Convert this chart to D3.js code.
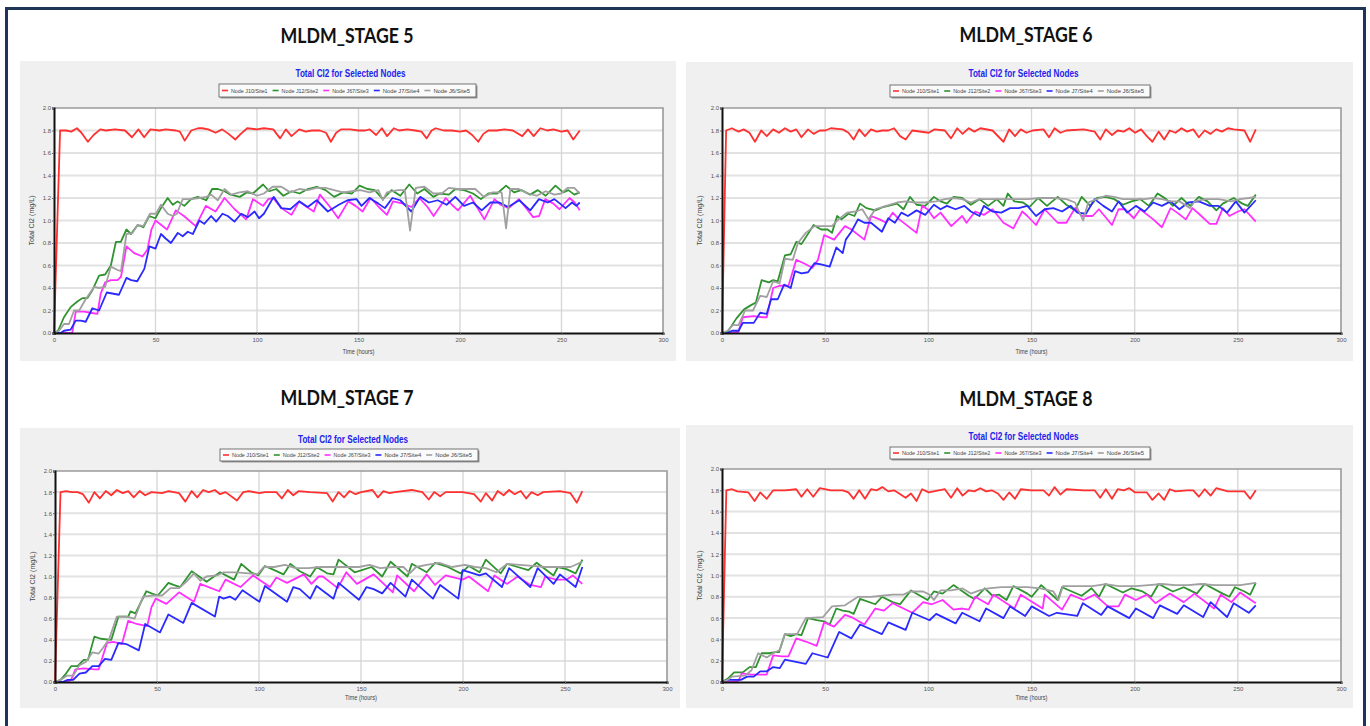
<!DOCTYPE html>
<html>
<head>
<meta charset="utf-8">
<script src="https://cdn.jsdelivr.net/npm/d3@7"></script>
<style>
  body { margin: 0; background: #fff; }
  svg { display: block; }
</style>
</head>
<body>
<svg id="chart" width="1370" height="726"></svg>
<script>
// ---- labels and ticks ----
const stageNames = ["MLDM_STAGE 5", "MLDM_STAGE 6", "MLDM_STAGE 7", "MLDM_STAGE 8"];
const chartTitle = "Total Cl2 for Selected Nodes";
const seriesNames = ["Node J10/Site1", "Node J12/Site2", "Node J67/Site3", "Node J7/Site4", "Node J6/Site5"];
const xTicks = [0, 50, 100, 150, 200, 250, 300];
const yTicks = [0, 0.2, 0.4, 0.6, 0.8, 1.0, 1.2, 1.4, 1.6, 1.8, 2.0];
const xLabel = "Time (hours)";
const yLabel = "Total Cl2 (mg/L)";

// ---- series: [time (hours), Cl2 (mg/L)] ----
const stage5_site1 = [[0,0],[3,1.80],[6,1.80],[8.5,1.79],[11.3,1.82],[13.5,1.78],[16.7,1.70],[19.5,1.76],[22.8,1.81],[25.5,1.80],[30,1.81],[35,1.80],[38.4,1.74],[41.6,1.81],[44.4,1.74],[47.5,1.81],[52,1.80],[55,1.81],[60,1.80],[62,1.79],[64.4,1.71],[67.6,1.80],[71,1.82],[73,1.82],[76,1.81],[79.6,1.78],[82.8,1.81],[86,1.77],[89.3,1.72],[92,1.77],[95.2,1.82],[100,1.81],[103.4,1.82],[108,1.81],[111.4,1.73],[114.2,1.81],[117,1.75],[120.8,1.81],[124,1.79],[127,1.80],[131,1.80],[134,1.78],[136.4,1.70],[139,1.78],[141.4,1.81],[146,1.81],[150,1.80],[153.3,1.80],[155.5,1.81],[158.7,1.76],[161.5,1.82],[164.1,1.75],[167.4,1.82],[170,1.80],[174,1.81],[178,1.80],[181,1.79],[183.6,1.73],[186,1.80],[188,1.82],[192,1.80],[196,1.80],[200,1.79],[203,1.80],[206,1.76],[209,1.70],[211.5,1.77],[214,1.80],[218,1.80],[222,1.81],[226,1.80],[230.7,1.75],[233.5,1.81],[236.3,1.75],[239.6,1.82],[243,1.80],[246,1.81],[250,1.79],[253,1.80],[255.8,1.72],[259,1.80]];
const stage5_site2 = [[0,0],[2,0.02],[4.9,0.14],[8.2,0.23],[11.5,0.28],[14,0.31],[16.5,0.31],[18.9,0.38],[22.2,0.51],[25.2,0.52],[28,0.60],[30.5,0.81],[32.9,0.81],[35.7,0.92],[37.9,0.88],[41.2,0.96],[44,0.94],[46.9,1.04],[49.9,1.02],[52.7,1.11],[56,1.20],[58.5,1.14],[60.9,1.17],[64.2,1.13],[67.5,1.19],[70.8,1.21],[75,1.18],[77.9,1.28],[80.7,1.28],[84,1.26],[87,1.23],[91.5,1.21],[95,1.25],[98,1.24],[103,1.32],[106,1.26],[109.5,1.28],[113,1.22],[117,1.26],[121,1.24],[125,1.28],[129.4,1.30],[133.8,1.27],[138,1.21],[142.4,1.25],[146.8,1.24],[150.5,1.31],[154.4,1.28],[158,1.27],[162,1.19],[166.3,1.27],[170.6,1.22],[175,1.32],[178.9,1.24],[182.5,1.28],[186.9,1.21],[190,1.24],[194.5,1.23],[197.7,1.28],[202,1.27],[206.4,1.24],[210.3,1.19],[214,1.24],[218.3,1.24],[222.7,1.31],[226.6,1.25],[230.2,1.27],[234.6,1.23],[238.3,1.27],[242.2,1.22],[247,1.31],[250.8,1.25],[253.4,1.27],[256.3,1.23],[259,1.25]];
const stage5_site3 = [[0,0],[9,0],[10.7,0.19],[14.8,0.19],[18,0.18],[21.4,0.17],[23,0.35],[25.2,0.45],[28,0.47],[31.3,0.47],[33,0.50],[35.7,0.77],[39.5,0.71],[43.6,0.68],[46,0.74],[48,0.92],[50,1.00],[55.7,0.92],[60,1.09],[64,1.04],[69.8,0.95],[74.8,1.13],[79.6,1.08],[84,1.20],[89,1.10],[94.7,1.01],[98,1.19],[103,1.13],[105.6,1.19],[108,1.20],[112,1.11],[117,1.05],[120.8,1.17],[124.5,1.12],[128,1.08],[131,1.23],[136,1.12],[140,1.02],[145,1.17],[148.5,1.13],[152,1.08],[156,1.20],[160,1.12],[164,1.05],[167,1.17],[172,1.15],[176,1.12],[180,1.20],[184,1.12],[187,1.04],[193,1.20],[196,1.14],[199,1.09],[205,1.22],[209,1.10],[212,1.01],[217,1.19],[220,1.14],[224,1.11],[229,1.19],[233,1.10],[236,1.03],[239,1.04],[242,1.19],[246,1.15],[249,1.10],[254,1.20],[256.5,1.16],[259,1.09]];
const stage5_site4 = [[0,0],[3.3,0],[4.9,0.02],[8.2,0.03],[10.7,0.11],[13.2,0.11],[15.6,0.10],[18.9,0.22],[22.2,0.20],[26,0.36],[32,0.34],[35.7,0.49],[38,0.47],[41,0.46],[44.5,0.57],[47,0.77],[50,0.75],[52.7,0.88],[55,0.84],[57.6,0.80],[61,0.89],[63.4,0.86],[65.9,0.90],[68.4,0.88],[71.6,1.00],[74,0.97],[77.4,1.04],[79.9,0.99],[83,1.06],[85.6,1.04],[88.9,0.99],[92.2,1.06],[95.5,1.03],[98.8,1.08],[101,1.02],[103.4,1.06],[108.2,1.21],[112,1.11],[116.4,1.10],[120.8,1.17],[125,1.12],[129.4,1.18],[134.9,1.08],[140.3,1.14],[144.6,1.18],[149,1.19],[151.5,1.13],[155.4,1.20],[159.8,1.15],[163,1.11],[166.7,1.20],[170.6,1.18],[176,1.08],[180.4,1.21],[184.7,1.16],[189,1.18],[193.4,1.14],[197.7,1.21],[202,1.13],[206.4,1.16],[210.7,1.09],[215,1.16],[219.4,1.16],[223.7,1.12],[229.2,1.18],[234.6,1.09],[238.9,1.19],[243.2,1.16],[246.5,1.19],[252,1.11],[255.2,1.16],[257.3,1.13],[259,1.16]];
const stage5_site5 = [[0,0],[2.5,0.02],[4.9,0.08],[7.4,0.08],[9.9,0.20],[12.4,0.20],[15.6,0.30],[19.8,0.41],[22.2,0.40],[25.2,0.41],[28,0.59],[31.3,0.56],[33,0.55],[35.7,0.88],[38.7,0.89],[41.2,0.96],[44,0.95],[47.3,1.06],[50.2,1.06],[52.7,1.14],[56,1.06],[58.5,1.04],[60.5,1.06],[63.4,1.19],[67.5,1.19],[71.6,1.20],[75,1.21],[77.4,1.23],[80.7,1.18],[84,1.28],[87.3,1.23],[91.4,1.25],[95.5,1.26],[100,1.22],[103.4,1.24],[107.7,1.30],[112,1.30],[116.4,1.25],[120.8,1.28],[125,1.27],[129.4,1.29],[133.8,1.29],[138,1.27],[142.4,1.25],[146.8,1.26],[151,1.27],[155.4,1.25],[159.8,1.27],[162,1.18],[164,1.25],[169.5,1.27],[172.8,1.27],[175.4,0.91],[178.2,1.29],[182.5,1.30],[186.9,1.24],[191,1.24],[194.5,1.29],[198.8,1.28],[203,1.28],[207.5,1.28],[211.8,1.21],[216,1.25],[220.5,1.25],[222.7,0.93],[224.8,1.28],[229,1.28],[233.5,1.24],[237.8,1.22],[242.2,1.26],[246.5,1.23],[249.8,1.24],[253,1.29],[256.3,1.29],[259,1.24]];

const stage6_site1 = [[0,0],[2,1.80],[4.8,1.82],[8,1.79],[10.5,1.81],[13.3,1.78],[16,1.70],[19,1.80],[21.7,1.75],[24.8,1.81],[27.6,1.78],[30.5,1.82],[33.3,1.79],[36,1.81],[38.5,1.74],[41.7,1.81],[44.4,1.77],[47.4,1.80],[50,1.80],[52.8,1.82],[58.5,1.81],[61.3,1.78],[63.8,1.72],[66.5,1.81],[69.3,1.75],[72.2,1.81],[75,1.79],[77.7,1.80],[80.6,1.80],[83.4,1.82],[86.3,1.75],[89,1.72],[92.2,1.80],[100.2,1.78],[103,1.81],[108,1.80],[111,1.73],[114,1.82],[116.6,1.77],[119.6,1.82],[122.3,1.79],[125.2,1.82],[131.1,1.80],[136.4,1.70],[139.2,1.81],[142,1.75],[144.8,1.81],[147.6,1.78],[150.5,1.80],[155.8,1.81],[158.5,1.74],[161.2,1.82],[164,1.78],[166.9,1.80],[175.3,1.81],[180.6,1.79],[183.3,1.72],[186,1.81],[189,1.76],[191.8,1.80],[194.7,1.79],[197.4,1.82],[200.2,1.78],[203.1,1.81],[205.9,1.75],[208.6,1.70],[211.6,1.79],[214.3,1.72],[217,1.80],[219.8,1.78],[222.7,1.82],[225.4,1.79],[228.4,1.81],[231.1,1.74],[233.9,1.80],[236.8,1.77],[239.5,1.81],[242.3,1.79],[245.2,1.82],[248,1.81],[253.2,1.80],[256,1.70],[258.7,1.81]];
const stage6_site2 = [[0,0],[2.7,0.01],[7,0.13],[10.7,0.21],[14.3,0.25],[16.4,0.27],[19.2,0.47],[22.7,0.45],[24.8,0.47],[27,0.46],[30.5,0.69],[33.3,0.70],[36,0.81],[38.5,0.79],[44.4,0.96],[48,0.92],[51.2,0.92],[53.3,0.89],[55.8,1.04],[57.9,1.01],[61.3,1.06],[64.2,1.04],[66.9,1.15],[70,1.11],[74.3,1.09],[78.1,1.12],[80.6,1.13],[84.8,1.15],[88,1.10],[91.1,1.21],[94.3,1.14],[98.5,1.13],[102.7,1.21],[105.9,1.17],[109,1.15],[112.2,1.21],[116.4,1.20],[120.6,1.14],[124.8,1.19],[129,1.13],[133.2,1.19],[136.4,1.13],[138.5,1.24],[141.7,1.17],[145.9,1.16],[149,1.12],[153.2,1.20],[157.5,1.13],[162.7,1.21],[166.9,1.14],[171.1,1.09],[174.3,1.21],[178.5,1.13],[181.7,1.20],[185.9,1.21],[190.1,1.19],[194.3,1.14],[198.5,1.17],[202.7,1.19],[206.9,1.13],[211.1,1.24],[215.3,1.19],[218.5,1.13],[222.7,1.20],[226.9,1.13],[231.1,1.21],[235.3,1.17],[239.6,1.09],[242.7,1.15],[248,1.20],[252.2,1.15],[254.9,1.13],[258.7,1.23]];
const stage6_site3 = [[0,0],[4.8,0],[8,0.01],[10.1,0.14],[15.4,0.15],[19.6,0.14],[21.7,0.14],[24.8,0.40],[27.9,0.42],[32.2,0.42],[36,0.65],[39.6,0.62],[43.8,0.58],[46.5,0.65],[49.5,0.87],[54.3,0.83],[59.6,0.95],[62.7,0.92],[69,0.83],[72.2,1.04],[76.4,1.01],[79.6,0.98],[82.7,1.07],[85.9,1.01],[94.3,0.89],[97,1.13],[99.6,1.10],[102.7,1.02],[105.9,1.07],[111.1,0.95],[116.4,1.04],[118.5,0.98],[122.7,1.08],[126.9,1.05],[131.1,1.10],[136.4,0.98],[141.2,0.93],[145.5,1.08],[148,1.04],[152.2,0.96],[156.4,1.10],[162.7,0.98],[166.9,0.98],[171.1,1.11],[174.3,1.04],[179.6,1.04],[182.7,1.10],[189,0.96],[192.2,1.10],[195.3,1.10],[199.6,1.02],[202.7,1.10],[209,1.01],[213.2,0.94],[217.4,1.11],[220.6,1.07],[224.8,1.01],[228,1.11],[231.1,1.06],[236.4,0.97],[239.6,0.97],[242.7,1.11],[245.9,1.04],[250.1,1.08],[253.2,1.10],[258.7,0.99]];
const stage6_site4 = [[0,0],[2.7,0],[4.8,0.02],[8,0.02],[10.1,0.09],[15.4,0.09],[18.5,0.18],[21.7,0.17],[23.8,0.30],[27,0.30],[30.1,0.43],[33.3,0.40],[35.4,0.55],[38.5,0.53],[41.7,0.54],[44.8,0.62],[48,0.61],[52.2,0.59],[55.4,0.76],[58.5,0.71],[60,0.83],[62.7,0.90],[65.9,1.01],[69,0.98],[72.2,0.98],[77.5,0.90],[80.6,1.02],[83.8,0.98],[86.9,1.07],[90.1,1.04],[94.3,1.09],[98.5,1.05],[102.7,1.14],[105.9,1.10],[109,1.13],[113.2,1.10],[117.5,1.13],[120.6,1.08],[124.8,1.04],[126.9,1.13],[131.1,1.08],[135.4,1.07],[139.6,1.11],[143.8,1.11],[148,1.13],[152.2,1.04],[156.4,1.10],[160.6,1.11],[164.8,1.08],[169,1.13],[172.2,1.07],[176.4,1.06],[180.6,1.19],[184.8,1.13],[189,1.08],[192.2,1.17],[196.4,1.07],[200.6,1.13],[204.8,1.08],[209,1.16],[213.2,1.13],[217.4,1.17],[221.7,1.10],[225.9,1.16],[231.1,1.17],[236.4,1.13],[240.6,1.13],[244.8,1.07],[249,1.17],[253.2,1.07],[258.7,1.18]];
const stage6_site5 = [[0,0],[2.7,0.02],[5.3,0.07],[8,0.07],[11.2,0.20],[15,0.20],[18.5,0.33],[21.7,0.32],[24.8,0.46],[27.9,0.44],[30.5,0.66],[34.3,0.65],[36.8,0.80],[40.6,0.89],[44.8,0.95],[49,0.95],[53.3,0.95],[56.4,1.01],[60.6,1.07],[64.8,1.08],[68,1.10],[71,1.01],[74.3,1.10],[79.6,1.13],[84.8,1.16],[89,1.17],[93.3,1.16],[98.5,1.16],[103.8,1.17],[108,1.19],[112.2,1.20],[116.4,1.19],[120.6,1.16],[124.8,1.19],[129,1.19],[133.2,1.19],[138.5,1.19],[143.8,1.19],[148,1.19],[154.3,1.20],[160.6,1.20],[166.9,1.19],[171.1,1.16],[175,1.00],[177.5,1.16],[181.7,1.19],[185.9,1.22],[190.1,1.21],[194.3,1.19],[198.5,1.19],[204.8,1.19],[209,1.20],[213.2,1.19],[217.4,1.17],[221.7,1.17],[226.9,1.11],[229,1.17],[234.3,1.19],[240.6,1.19],[246.9,1.17],[251.1,1.19],[255.3,1.20],[258.7,1.21]];

const stage7_site1 = [[0,0],[2.7,1.80],[5.4,1.81],[8.3,1.80],[11,1.80],[13.7,1.78],[16.6,1.70],[19.3,1.80],[22,1.74],[24.9,1.81],[27.6,1.77],[30.3,1.82],[33.2,1.79],[35.9,1.81],[38.6,1.75],[41.5,1.81],[44.2,1.77],[47.3,1.80],[52.5,1.79],[55.6,1.81],[60.8,1.79],[63.9,1.71],[67,1.81],[69.7,1.75],[72.6,1.82],[75.3,1.80],[78.4,1.82],[80.9,1.78],[83.6,1.80],[89.2,1.72],[92.3,1.80],[95,1.81],[100.2,1.79],[102.9,1.80],[108.5,1.80],[111.2,1.74],[114.1,1.82],[116.8,1.77],[119.5,1.81],[125.1,1.80],[133.4,1.79],[136.1,1.71],[139,1.80],[141.7,1.75],[144.4,1.81],[147.3,1.78],[150,1.80],[155.6,1.82],[158.3,1.75],[161,1.81],[163.9,1.79],[166.6,1.80],[174.9,1.82],[180.1,1.80],[183.2,1.73],[185.9,1.80],[188.8,1.76],[191.5,1.80],[199.8,1.80],[205.4,1.78],[208.7,1.71],[211.2,1.79],[214.3,1.72],[217,1.81],[219.9,1.77],[222.6,1.82],[225.3,1.78],[228.3,1.81],[231,1.74],[233.6,1.80],[236.6,1.77],[239.3,1.80],[247.5,1.81],[252.7,1.79],[255.8,1.70],[258.5,1.81]];
const stage7_site2 = [[0,0],[2.7,0.02],[5.4,0.08],[7.9,0.15],[11,0.15],[14.1,0.21],[16.2,0.21],[19.3,0.43],[22.4,0.41],[27.6,0.40],[31.1,0.62],[35.9,0.62],[37,0.67],[39.4,0.65],[44.8,0.86],[47.3,0.84],[50.4,0.82],[55.6,0.94],[58.1,0.92],[61.4,0.90],[67,1.05],[74.3,0.95],[80.9,1.04],[87.8,0.97],[91.3,1.12],[96.1,1.04],[99.6,1.01],[102.9,1.10],[107.5,1.06],[112,1.02],[115.4,1.12],[120,1.05],[125.1,1.00],[128.2,1.09],[133.4,1.03],[136.5,1.02],[139,1.16],[146.9,1.04],[155.2,1.09],[160.4,1.00],[164.5,1.14],[172.8,1.00],[174.9,1.12],[182.2,1.04],[186.3,1.13],[192.6,1.09],[198.8,1.03],[202.9,1.10],[208.1,1.04],[211.2,1.16],[218.5,1.03],[221.6,1.12],[226.8,1.09],[232,1.06],[236.1,1.13],[244.4,1.01],[246.5,1.09],[250.7,1.07],[255.2,1.03],[258.5,1.16]];
const stage7_site3 = [[0,0],[5.8,0],[7.9,0.02],[10,0.12],[14.1,0.13],[19.3,0.12],[21.4,0.12],[25.5,0.37],[28.6,0.38],[32.8,0.36],[35.9,0.58],[40,0.55],[45.2,0.53],[47.3,0.71],[49.4,0.79],[54.6,0.74],[60.8,0.85],[68.1,0.76],[71.2,0.93],[80.5,0.86],[83.6,0.97],[90.9,0.90],[97.1,1.01],[105.4,0.90],[108.5,0.99],[113.7,0.94],[122,1.02],[125.7,0.93],[129.3,1.00],[131.3,1.00],[138.6,0.89],[142.8,1.04],[148,0.93],[156.2,1.02],[165.6,0.85],[167.7,1.01],[176,0.86],[182.2,1.02],[186.3,0.92],[191.5,1.01],[199.8,0.97],[202.9,1.00],[212.3,0.86],[215.4,1.01],[221.6,0.93],[226.8,1.00],[233,0.92],[238.2,0.90],[240.3,1.00],[245.5,0.97],[250.7,0.97],[253.8,1.01],[258.5,0.93]];
const stage7_site4 = [[0,0],[3.7,0],[6.2,0.02],[8.9,0.02],[12,0.08],[15.1,0.09],[18.3,0.15],[21.4,0.15],[24.5,0.22],[27.6,0.21],[31.1,0.37],[34.9,0.36],[41.1,0.30],[44.2,0.55],[51.5,0.47],[55.6,0.64],[62.9,0.56],[67,0.75],[78.4,0.62],[80.5,0.81],[82.6,0.79],[85.7,0.81],[88.4,0.78],[91.9,0.87],[100.2,0.76],[102.9,0.91],[113.7,0.76],[116.8,0.90],[120,0.88],[125.1,0.79],[128.2,0.91],[136.5,0.79],[139,0.94],[149,0.78],[152.7,0.90],[156.2,0.88],[160.4,0.84],[164.5,0.94],[171.8,0.81],[174.9,0.97],[185.3,0.79],[188.8,0.92],[197.7,0.79],[199.8,1.06],[205,1.03],[208.1,1.01],[211.2,1.03],[219.1,0.90],[222.6,1.08],[233,0.90],[236.6,1.08],[244.4,0.93],[247.5,1.02],[255.2,0.90],[258.5,1.09]];
const stage7_site5 = [[0,0],[2.7,0.02],[5.8,0.06],[8.9,0.06],[12,0.16],[15.1,0.19],[18.3,0.28],[21.4,0.27],[23.4,0.32],[26.6,0.41],[30.3,0.62],[34.9,0.62],[39,0.60],[43.2,0.81],[48.3,0.82],[52.5,0.82],[56.6,0.89],[60.8,0.89],[64.9,0.96],[68.1,1.03],[71.2,0.96],[74.3,1.00],[79.5,1.01],[82.6,1.04],[88.8,1.04],[95,1.03],[99.2,1.02],[102.3,1.09],[107.5,1.09],[112.7,1.11],[117.9,1.08],[124.1,1.08],[130.3,1.09],[136.5,1.09],[142.8,1.09],[149,1.09],[154.2,1.11],[159.4,1.08],[165.6,1.09],[170.8,1.09],[173.9,1.03],[177,1.09],[182.2,1.11],[188.4,1.13],[194.6,1.09],[200.9,1.11],[206,1.09],[211.2,1.08],[216.4,1.04],[221.6,1.12],[227.8,1.11],[234.1,1.10],[240.3,1.09],[246.5,1.09],[252.7,1.09],[258.5,1.14]];

const stage8_site1 = [[0,0],[2.1,1.80],[4.8,1.81],[7.4,1.79],[12.8,1.78],[15.8,1.70],[18.5,1.78],[21.7,1.72],[24.8,1.80],[30.5,1.80],[36,1.81],[38.5,1.74],[41.3,1.81],[44.2,1.74],[47.4,1.82],[52.8,1.80],[58.5,1.80],[61.3,1.78],[63.8,1.72],[66.5,1.80],[69.3,1.72],[72.2,1.81],[75,1.80],[77.7,1.83],[80.6,1.79],[83.4,1.80],[89,1.73],[91.6,1.77],[94.3,1.70],[97,1.81],[100.2,1.78],[108,1.81],[111,1.73],[114,1.82],[116.6,1.75],[119.6,1.80],[122.3,1.79],[125.2,1.82],[128,1.79],[130.7,1.80],[133.7,1.77],[136.4,1.71],[139.2,1.78],[142,1.72],[144.8,1.81],[150,1.80],[155.8,1.80],[158.5,1.75],[161.2,1.83],[164,1.76],[166.9,1.81],[175.3,1.80],[180.6,1.80],[183.3,1.73],[186,1.81],[189,1.72],[191.8,1.81],[194.7,1.80],[197.4,1.82],[200.2,1.78],[205.9,1.78],[208.6,1.71],[211.6,1.77],[214.3,1.71],[217,1.81],[219.8,1.79],[225.4,1.80],[228.4,1.80],[231.1,1.74],[233.9,1.81],[236.8,1.75],[239.5,1.82],[245.2,1.79],[253.2,1.79],[256,1.72],[258.7,1.80]];
const stage8_site2 = [[0,0],[2.7,0.03],[5.9,0.09],[10.1,0.09],[13.3,0.14],[16.4,0.14],[19.2,0.27],[22.7,0.27],[25.9,0.28],[27.6,0.28],[30.5,0.45],[33.3,0.43],[36,0.45],[38.5,0.44],[41.7,0.60],[45.9,0.58],[49.5,0.57],[52.2,0.54],[55.4,0.69],[58.5,0.67],[61.7,0.66],[63.8,0.64],[66.9,0.78],[74.3,0.73],[77.5,0.80],[82.7,0.75],[86.3,0.73],[91.6,0.86],[99.6,0.77],[102.7,0.85],[106.9,0.83],[112.2,0.91],[119.6,0.81],[122.3,0.78],[127.4,0.88],[131.1,0.81],[134.3,0.82],[137.9,0.77],[141.2,0.90],[148,0.83],[150.1,0.80],[154.7,0.91],[162.7,0.77],[164.8,0.89],[174.3,0.81],[179.1,0.88],[182.7,0.80],[185.9,0.92],[194.3,0.84],[198.5,0.88],[203.8,0.85],[208,0.80],[211.6,0.92],[218.5,0.85],[223.8,0.89],[226.9,0.86],[230.1,0.83],[233.9,0.92],[242.7,0.83],[245.9,0.80],[248.6,0.89],[253.2,0.85],[256,0.82],[258.7,0.93]];
const stage8_site3 = [[0,0],[4.8,0],[8,0.01],[9.5,0.08],[14.3,0.07],[19.6,0.07],[21.7,0.07],[24.8,0.25],[29,0.24],[32.2,0.24],[36,0.41],[40.6,0.38],[45.9,0.34],[49.5,0.56],[54.3,0.52],[59.6,0.63],[62.7,0.61],[69,0.54],[74.3,0.69],[78.5,0.67],[82.7,0.74],[92.2,0.65],[97.5,0.75],[101.7,0.73],[106.9,0.77],[112.2,0.68],[116.4,0.69],[119.6,0.68],[122.7,0.80],[129,0.73],[131.6,0.82],[141.7,0.69],[144.8,0.82],[155.4,0.69],[156.4,0.82],[164.8,0.68],[169,0.82],[175.3,0.77],[180.6,0.82],[187,0.71],[192.2,0.71],[195.3,0.82],[200.6,0.77],[205.9,0.82],[210.1,0.74],[217,0.83],[223.8,0.75],[229,0.83],[238.5,0.69],[241.7,0.82],[246.9,0.75],[251.1,0.84],[258.7,0.74]];
const stage8_site4 = [[0,0],[2.7,0.02],[9.1,0.02],[12.2,0.05],[15.4,0.05],[18.5,0.10],[21.7,0.10],[24.8,0.14],[28,0.13],[30.5,0.21],[40.6,0.17],[43.8,0.27],[51.2,0.23],[56.8,0.47],[62.7,0.41],[66.9,0.54],[77.5,0.45],[80.6,0.56],[89,0.49],[92.2,0.65],[100.6,0.58],[103.8,0.64],[113.2,0.55],[116.4,0.65],[124.8,0.57],[128,0.69],[136.4,0.60],[139.6,0.71],[146.9,0.62],[150.1,0.71],[158.5,0.62],[162.3,0.65],[172.2,0.62],[174.9,0.74],[183.8,0.63],[186.9,0.71],[197.4,0.60],[200.6,0.69],[209,0.60],[212.2,0.72],[220.6,0.64],[223.8,0.72],[233.2,0.61],[236.8,0.75],[244.8,0.61],[248,0.74],[255.3,0.65],[258.7,0.72]];
const stage8_site5 = [[0,0],[2.7,0.02],[4.8,0.05],[11.2,0.06],[14.3,0.11],[17.5,0.27],[21.7,0.23],[24.8,0.27],[28,0.30],[30.5,0.45],[36.4,0.45],[40.6,0.60],[49,0.61],[53.3,0.71],[59.6,0.72],[65.9,0.80],[72.2,0.80],[77.5,0.81],[82.7,0.82],[88,0.82],[91.1,0.85],[97.5,0.85],[100.6,0.82],[102.7,0.77],[105.9,0.86],[111.1,0.86],[116.4,0.88],[120.6,0.83],[124.8,0.86],[129,0.88],[135.4,0.89],[141.7,0.89],[148,0.89],[154.3,0.88],[160.6,0.85],[163.1,0.77],[165.2,0.90],[173.2,0.90],[179.6,0.90],[185.9,0.92],[192.2,0.90],[200.6,0.90],[206.9,0.91],[213.2,0.92],[219.5,0.91],[225.9,0.91],[232.2,0.92],[238.5,0.91],[244.8,0.91],[251.1,0.91],[258.7,0.93]];

const stageSeries = [
  [stage5_site1, stage5_site2, stage5_site3, stage5_site4, stage5_site5],
  [stage6_site1, stage6_site2, stage6_site3, stage6_site4, stage6_site5],
  [stage7_site1, stage7_site2, stage7_site3, stage7_site4, stage7_site5],
  [stage8_site1, stage8_site2, stage8_site3, stage8_site4, stage8_site5]
];

// ---- styling and layout ----
const seriesColors = ["#ff3030", "#2f932f", "#ff30ff", "#2a2aff", "#a0a0a0"];
const panels = [
  { head: [347, 43], bg: [20, 61, 676, 361], plot: [54, 108, 663, 333], title: 77, legend: [219, 84, 476, 97], xl: 354 },
  { head: [1026, 42], bg: [686, 62, 1353, 361], plot: [722, 108, 1341, 333], title: 77, legend: [890, 85, 1150, 97], xl: 354 },
  { head: [347, 405], bg: [20, 428, 680, 708], plot: [55, 471, 667, 682], title: 443, legend: [220, 449, 478, 461], xl: 700 },
  { head: [1026, 406], bg: [686, 425, 1353, 708], plot: [722, 469, 1341, 682], title: 440, legend: [890, 447, 1150, 459], xl: 700 }
];

const svg = d3.select("#chart");
const small = "'Liberation Sans', Arial, sans-serif";

// outer frame
svg.append("rect").attr("x", 6.5).attr("y", 8.5).attr("width", 1358).attr("height", 740)
  .attr("fill", "none").attr("stroke", "#1f3557").attr("stroke-width", 3);

panels.forEach((p, i) => {
  const g = svg.append("g");
  const [px0, py0, px1, py1] = p.plot;

  // stage heading
  g.append("text").attr("x", p.head[0]).attr("y", p.head[1])
    .attr("text-anchor", "middle").attr("font-family", "Lato, 'Open Sans', sans-serif")
    .attr("font-weight", "bold").attr("font-size", 20).attr("fill", "#111")
    .attr("textLength", 133).attr("lengthAdjust", "spacingAndGlyphs")
    .text(stageNames[i]);

  // chart background
  g.append("rect").attr("x", p.bg[0]).attr("y", p.bg[1])
    .attr("width", p.bg[2] - p.bg[0]).attr("height", p.bg[3] - p.bg[1]).attr("fill", "#f0f0f0");

  const cx = (px0 + px1) / 2;
  g.append("text").attr("x", cx - 8).attr("y", p.title).attr("text-anchor", "middle")
    .attr("font-family", small).attr("font-weight", "bold").attr("font-size", 10.5)
    .attr("fill", "#2222ee").attr("textLength", 110).attr("lengthAdjust", "spacingAndGlyphs")
    .text(chartTitle);

  // legend
  const [lx0, ly0, lx1, ly1] = p.legend;
  g.append("rect").attr("x", lx0 + 1.5).attr("y", ly0 + 1.5).attr("width", lx1 - lx0).attr("height", ly1 - ly0)
    .attr("fill", "#9a9a9a");
  g.append("rect").attr("x", lx0).attr("y", ly0).attr("width", lx1 - lx0).attr("height", ly1 - ly0)
    .attr("fill", "#fafafa").attr("stroke", "#555").attr("stroke-width", 0.8);
  const pitch = (lx1 - lx0 - 4) / 5;
  const ly = (ly0 + ly1) / 2;
  seriesNames.forEach((name, k) => {
    const ex = lx0 + 3 + k * pitch;
    g.append("line").attr("x1", ex).attr("x2", ex + 6).attr("y1", ly).attr("y2", ly)
      .attr("stroke", seriesColors[k]).attr("stroke-width", 1.6);
    g.append("text").attr("x", ex + 9).attr("y", ly + 2.1)
      .attr("font-family", small).attr("font-size", 6).attr("fill", "#444")
      .attr("textLength", pitch - 14).attr("lengthAdjust", "spacingAndGlyphs").text(name);
  });

  // scales
  const x = d3.scaleLinear().domain([0, 300]).range([px0, px1]);
  const y = d3.scaleLinear().domain([0, 2]).range([py1, py0]);

  g.append("rect").attr("x", px0).attr("y", py0).attr("width", px1 - px0).attr("height", py1 - py0)
    .attr("fill", "#fff");

  // grid
  g.append("g").selectAll("line").data(yTicks.slice(1, -1)).join("line")
    .attr("x1", px0).attr("x2", px1).attr("y1", d => y(d)).attr("y2", d => y(d))
    .attr("stroke", "#e2e2e2").attr("stroke-width", 2);
  g.append("g").selectAll("line").data(xTicks.slice(1, -1)).join("line")
    .attr("x1", d => x(d)).attr("x2", d => x(d)).attr("y1", py0).attr("y2", py1)
    .attr("stroke", "#d8d8d8").attr("stroke-width", 1.4);

  // frame: light top/right, dark left/bottom
  g.append("path").attr("d", `M${px0},${py0}H${px1}V${py1}`)
    .attr("fill", "none").attr("stroke", "#9a9a9a").attr("stroke-width", 1.6);

  // series
  const line = d3.line().x(d => x(d[0])).y(d => y(d[1]));
  stageSeries[i].forEach((s, k) => {
    g.append("path").datum(s).attr("d", line).attr("fill", "none")
      .attr("stroke", seriesColors[k]).attr("stroke-width", 1.8).attr("stroke-linejoin", "round");
  });

  // axes
  const ax = g.append("g").attr("transform", `translate(0,${py1})`)
    .call(d3.axisBottom(x).tickValues(xTicks).tickSize(2).tickPadding(3).tickFormat(d3.format("d")));
  const ay = g.append("g").attr("transform", `translate(${px0},0)`)
    .call(d3.axisLeft(y).tickValues(yTicks).tickSize(2).tickPadding(1).tickFormat(d3.format(".1f")));
  [ax, ay].forEach(a => {
    a.select(".domain").attr("stroke", "#111").attr("stroke-width", 2);
    a.selectAll(".tick line").attr("stroke", "#666");
    a.selectAll("text").attr("font-family", small).attr("font-size", 6).attr("fill", "#555");
  });

  // axis titles
  g.append("text").attr("x", cx).attr("y", p.xl).attr("text-anchor", "middle")
    .attr("font-family", small).attr("font-size", 6.5).attr("fill", "#444")
    .attr("textLength", 32).attr("lengthAdjust", "spacingAndGlyphs").text(xLabel);
  g.append("text").attr("transform", `translate(${px0 - 20},${(py0 + py1) / 2}) rotate(-90)`)
    .attr("text-anchor", "middle").attr("font-family", small).attr("font-size", 6.5).attr("fill", "#444")
    .attr("textLength", 50).attr("lengthAdjust", "spacingAndGlyphs").text(yLabel);
});
</script>
</body>
</html>
